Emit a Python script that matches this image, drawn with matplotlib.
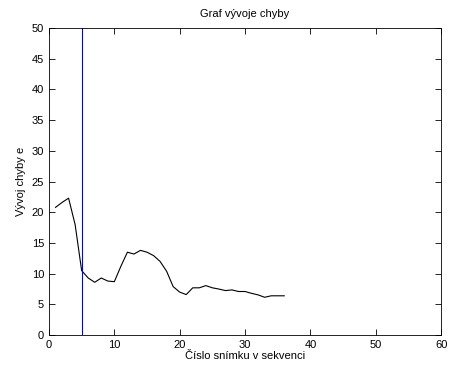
import matplotlib
matplotlib.use("Agg")
import matplotlib.pyplot as plt

snimek = list(range(1, 37))
chyba = [20.8, 21.6, 22.3, 18.0, 10.5, 9.3, 8.6, 9.3, 8.8, 8.7,
         11.2, 13.5, 13.2, 13.8, 13.5, 12.95, 12.0, 10.4, 7.9, 7.0,
         6.6, 7.7, 7.7, 8.06, 7.7, 7.5, 7.25, 7.36, 7.1, 7.1,
         6.8, 6.55, 6.16, 6.4, 6.4, 6.4]
hranice = 5

plt.rcParams['font.family'] = ['Liberation Sans', 'DejaVu Sans']
plt.rcParams['font.size'] = 8

fig = plt.figure(figsize=(4.51, 3.74), dpi=100)
ax = fig.add_axes([0.1086, 0.104, 0.8694, 0.821])
ax.plot(snimek, chyba, color="black", linewidth=0.8)
ax.axvline(hranice, color="#0000ff", linewidth=0.8)
ax.set_xlim(0, 60)
ax.set_ylim(0, 50)
ax.set_xticks(range(0, 61, 10))
ax.set_yticks(range(0, 51, 5))
ax.tick_params(direction="in", top=True, right=True, length=4, width=0.6, labelsize=8)
for s in ax.spines.values():
    s.set_linewidth(0.6)
ax.set_title("Graf vývoje chyby", fontsize=8, pad=8)
ax.set_xlabel("Číslo snímku v sekvenci", labelpad=1)
ax.set_ylabel("Vývoj chyby e", labelpad=4)
fig.savefig("out.png", dpi=100)
